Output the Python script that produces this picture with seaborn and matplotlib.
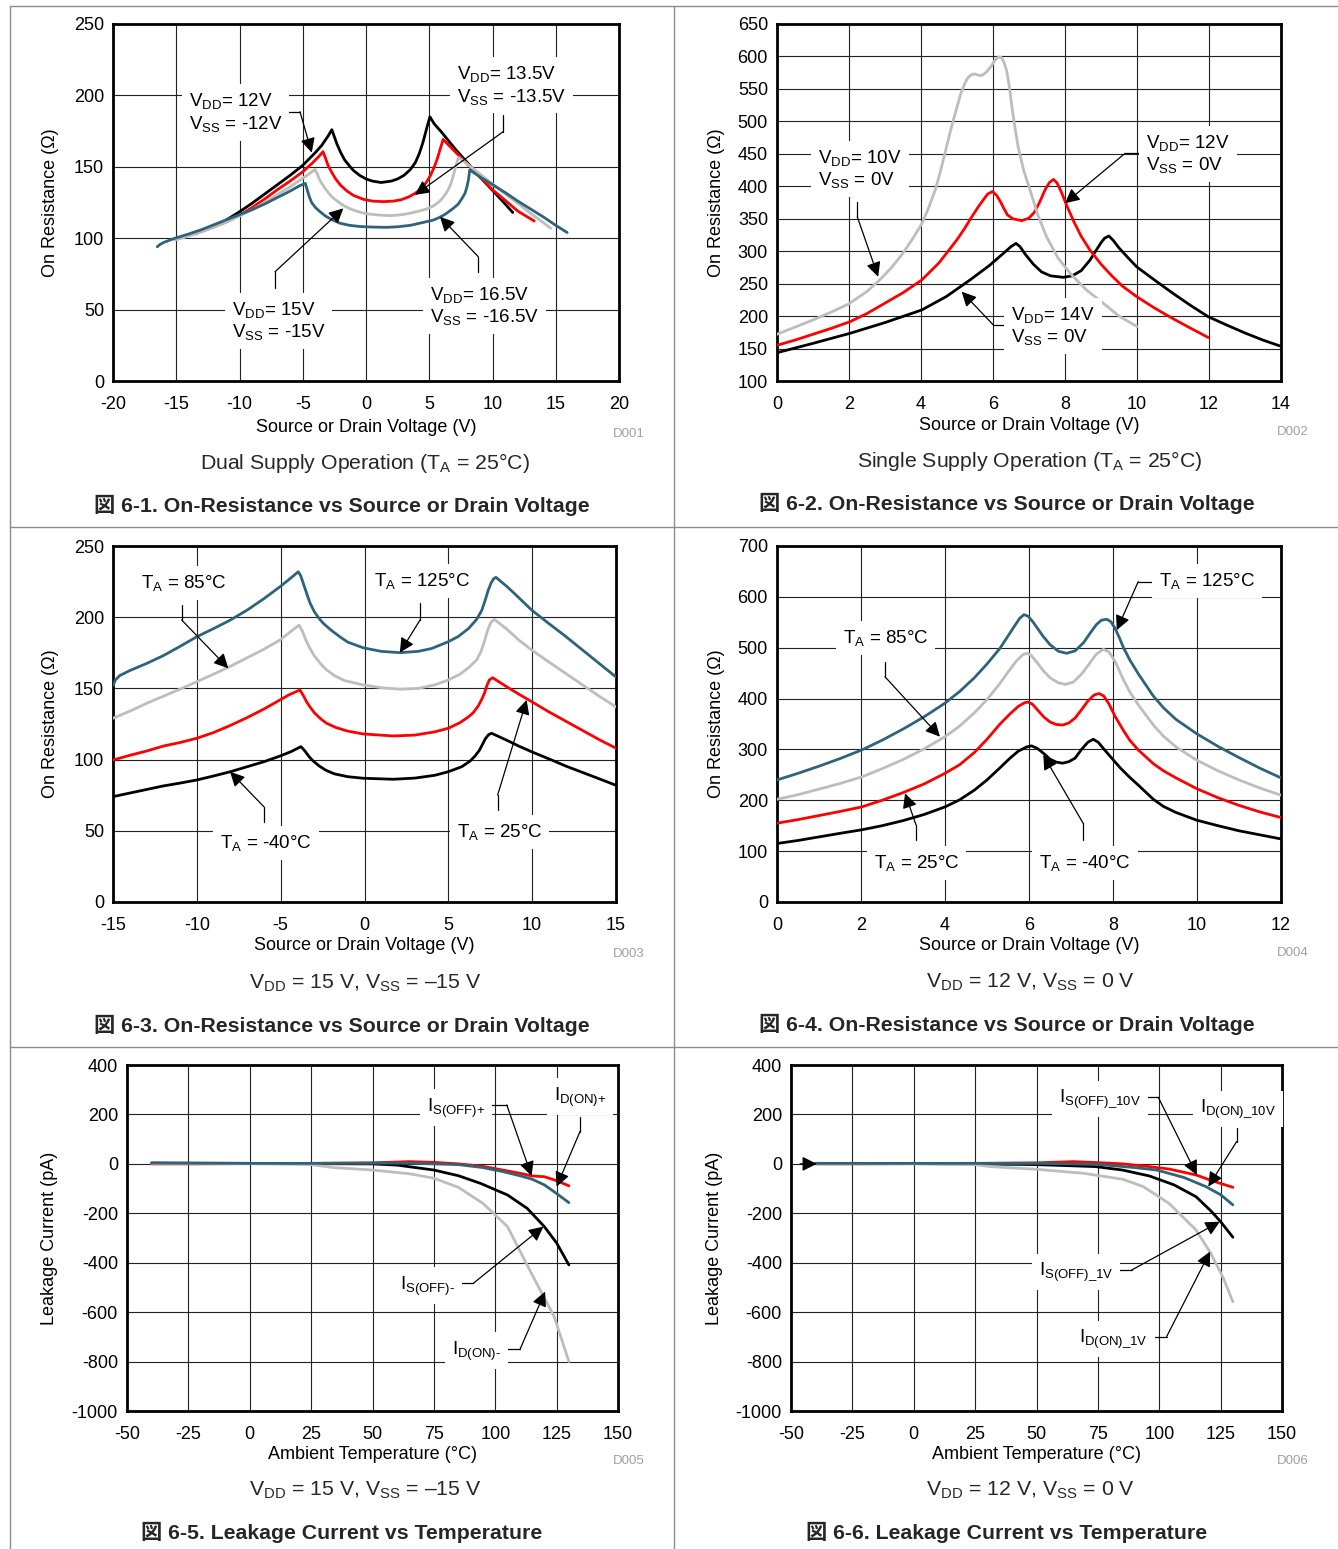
import numpy as np
import pandas as pd
import matplotlib
matplotlib.use("Agg")
import matplotlib.pyplot as plt
from matplotlib.lines import Line2D
import seaborn as sns

# ---------------- data ----------------
# Fig 6-1 dual supply (x: V, y: ohm)
p1_black_x = [-12.1, -11, -10, -9, -8, -7, -6, -5, -4, -3.5, -3.0, -2.7, -2.5, -2.3, -2.0, -1.7, -1.3, -1.0, -0.5, 0, 0.5, 1.2, 2, 2.5, 3, 3.5, 3.9, 4.2, 4.5, 4.8, 5.05, 5.4, 6, 7, 8, 9, 10, 11, 11.6]
p1_black_y = [108, 113, 118.5, 124.5, 131, 137.5, 144, 151, 160, 165, 171.5, 176, 171, 166, 160, 155, 150.5, 147.5, 144, 141.5, 140, 139, 140, 141.5, 144, 148, 153, 159, 167, 177, 185, 180, 174, 163, 153, 143, 133.5, 124, 118]
p1_red_x = [-13.5, -12, -11, -10, -9, -8, -7, -6, -5, -4.2, -3.7, -3.4, -3.2, -3.0, -2.7, -2.4, -2.0, -1.5, -1.0, -0.2, 0.5, 1.4, 2.2, 2.8, 3.4, 3.9, 4.4, 4.8, 5.1, 5.4, 5.65, 5.9, 6.1, 6.5, 7, 8, 9, 10, 11, 12, 13.3]
p1_red_y = [103, 108, 111.5, 116, 121.5, 127.5, 134, 140, 146.5, 153, 157.5, 160.6, 156, 151, 146, 141.5, 137, 133, 130, 127.2, 126, 125.6, 126, 127, 129, 131.5, 135, 139.5, 144, 150, 156, 163.5, 169.2, 165.5, 161, 152, 143, 134, 126.5, 119, 112]
p1_gray_x = [-15.1, -14, -13, -12, -11, -10, -9, -8, -7, -6, -5, -4.5, -4.03, -3.85, -3.7, -3.5, -3.2, -2.9, -2.58, -2.2, -1.8, -1.4, -1.0, -0.5, 0, 1, 1.9, 2.8, 3.5, 4.2, 4.8, 5.32, 5.7, 6.0, 6.3, 6.5, 6.7, 6.85, 7.0, 7.15, 7.3, 8, 9, 10, 11, 12, 13, 14, 14.6]
p1_gray_y = [98.7, 101.5, 104.5, 108, 111.5, 115.5, 120, 125, 130.5, 136, 142, 145, 148.2, 145, 141.5, 138.4, 134.5, 131, 128, 125.5, 123, 121.2, 119.7, 118.3, 117.2, 116.2, 115.8, 116.4, 117.5, 119, 120.5, 122.5, 125, 127.5, 131, 134, 138, 142, 147, 152, 156.6, 152, 145, 138, 131, 124.5, 117.5, 111, 107]
p1_teal_x = [-16.5, -16.3, -16.0, -15.1, -14, -13, -12, -11, -10, -9, -8, -7, -6, -5.3, -4.8, -4.65, -4.5, -4.3, -4.0, -3.64, -3.2, -2.7, -2.06, -1.3, -0.5, 0.5, 1.63, 2.5, 3.5, 4.5, 5.32, 5.8, 6.3, 6.9, 7.3, 7.6, 7.83, 7.98, 8.1, 8.2, 9, 10, 11, 12, 13, 14, 15, 15.9]
p1_teal_y = [94, 95.5, 97, 100, 103, 106, 109.5, 113, 116.5, 120, 124, 128.5, 133, 136.5, 138.4, 134, 129.5, 125, 121.5, 118.6, 115.5, 113, 110.5, 109, 108.2, 107.8, 107.6, 108, 109, 111, 112.7, 114.5, 117, 120.9, 124, 128, 131.5, 136, 141, 147.8, 143, 137.5, 132, 126, 120.5, 115, 109, 104]

# Fig 6-2 single supply
p2_gray_x = [0, 0.5, 1, 1.5, 2, 2.5, 2.86, 3.2, 3.5, 3.8, 4.02, 4.2, 4.4, 4.55, 4.71, 4.85, 5.0, 5.1, 5.22, 5.3, 5.4, 5.5, 5.6, 5.7, 5.82, 5.95, 6.05, 6.15, 6.22, 6.3, 6.38, 6.45, 6.52, 6.6, 6.7, 6.85, 7.03, 7.25, 7.49, 7.8, 8.14, 8.6, 9.06, 9.5, 10]
p2_gray_y = [172, 183, 194, 206, 219, 238, 256, 276, 297, 322, 342, 365, 395, 425, 461, 492, 522, 542, 559, 567, 572, 573, 571, 571, 576, 585, 594, 599, 599, 592, 578, 555, 525, 494, 460, 425, 394, 355, 322, 290, 266, 240, 220, 200, 184]
p2_red_x = [0, 0.5, 1, 1.5, 2.03, 2.5, 3, 3.5, 4.02, 4.5, 4.99, 5.2, 5.4, 5.6, 5.73, 5.85, 5.99, 6.1, 6.2, 6.3, 6.4, 6.55, 6.8, 7.0, 7.15, 7.3, 7.45, 7.57, 7.68, 7.78, 7.9, 8.05, 8.25, 8.45, 8.69, 9.0, 9.3, 9.6, 9.99, 10.5, 11, 11.5, 11.98]
p2_red_y = [155, 163, 172, 181, 191.4, 204, 220, 236, 255.6, 282, 317, 334, 352, 369, 379, 388, 392, 386, 377, 366, 356, 350, 347, 351, 360, 376, 395, 406, 410.6, 405, 391, 370, 345, 323, 302, 280, 262, 246, 230, 212, 196, 181, 167]
p2_black_x = [0, 1, 2.03, 3, 4.02, 4.7, 5.36, 5.9, 6.29, 6.5, 6.64, 6.75, 6.9, 7.12, 7.35, 7.6, 7.95, 8.2, 8.45, 8.69, 8.85, 9.0, 9.1, 9.22, 9.35, 9.5, 9.75, 9.99, 10.5, 11, 11.5, 11.98, 12.5, 13, 13.5, 13.97]
p2_black_y = [143.6, 158, 173.5, 190, 209.4, 230, 255.6, 278, 296.7, 307, 312, 307, 295, 280, 268, 262, 259.7, 262, 270, 286, 300, 313, 320, 323.4, 316, 305, 290, 276, 255, 235, 216, 199, 186, 174, 163, 154]

# Fig 6-3 temperature, dual
p3_teal_x = [-15, -14.85, -14.6, -14, -13, -12, -11, -10, -9, -8, -7, -6, -5.04, -4.5, -3.95, -3.8, -3.6, -3.4, -3.25, -3.0, -2.7, -2.46, -2.0, -1.5, -1.0, -0.07, 1, 2.11, 3.2, 4, 5.0, 5.6, 6.2, 6.69, 7.0, 7.2, 7.38, 7.55, 7.7, 7.84, 8.5, 9, 9.97, 11, 12, 13, 14, 15]
p3_teal_y = [152, 156, 159, 162.5, 167.5, 173, 179.5, 186.3, 192, 198, 205, 213, 221.4, 226.5, 231.9, 229, 222, 215, 210, 204, 199, 195.7, 191, 186.5, 182.5, 178.5, 176, 175.1, 176, 178, 182.8, 186.5, 192, 198.5, 205, 212, 219, 224, 227, 228, 221.5, 216, 205, 195.5, 186.5, 177, 167.5, 158]
p3_gray_x = [-15, -14, -13, -12, -11, -10, -9, -8, -7, -6, -5.04, -4.5, -3.9, -3.7, -3.5, -3.25, -3.0, -2.6, -2.26, -1.8, -1.2, -0.07, 1, 2.11, 3.2, 4.2, 5.0, 5.7, 6.2, 6.69, 6.95, 7.15, 7.35, 7.55, 7.74, 8.5, 9.2, 9.97, 11, 12, 13, 14, 15]
p3_gray_y = [129, 134, 139.5, 144.5, 149.5, 154.7, 160, 165.5, 171.5, 177.5, 184, 189, 194.5, 190, 184, 178, 173, 167, 163, 159, 155.5, 152.4, 150.5, 149.4, 150, 152.5, 155.9, 160, 164.5, 170, 176, 183, 191, 196.5, 198.5, 191.5, 184, 177, 168.5, 160.5, 152.5, 144.5, 137]
p3_red_x = [-15, -14, -13, -12, -11, -10, -9, -8, -7, -6, -5.04, -4.5, -3.85, -3.65, -3.45, -3.25, -3.0, -2.6, -2.26, -1.7, -1.0, -0.07, 1.71, 3, 4.2, 5.0, 5.7, 6.2, 6.49, 6.8, 7.0, 7.15, 7.3, 7.45, 7.64, 8.5, 9.2, 9.97, 11, 12, 13, 14, 15]
p3_red_y = [99.7, 103, 106, 109.5, 112, 115, 119, 124, 129.5, 135.5, 141.9, 145.5, 148.9, 145, 140.5, 137, 133, 128.5, 125.5, 122.5, 120, 118, 116.6, 117.2, 119.5, 122, 126, 130, 133, 138, 142.5, 146.5, 152, 156, 157.5, 151, 146, 140.7, 133.5, 127, 120.5, 114, 108]
p3_black_x = [-15, -14, -13, -12, -11, -10, -9, -8, -7, -6, -5.04, -4.4, -3.79, -3.55, -3.3, -3.06, -2.7, -2.3, -1.8, -1.0, -0.07, 1.71, 3, 4.2, 5.0, 5.8, 6.3, 6.59, 6.85, 7.05, 7.2, 7.4, 7.58, 8.5, 9.2, 9.97, 11, 12, 13, 14, 15]
p3_black_y = [74, 76.5, 79, 81.5, 83.5, 85.7, 88.5, 91.5, 95, 98.5, 102.5, 105.5, 109.1, 106, 102, 99, 95.5, 92.5, 90, 88, 86.9, 86.2, 87, 89, 91.5, 95, 99, 102.5, 106.5, 111, 114.5, 117.5, 118.5, 113.5, 109.5, 105.5, 100.5, 95.5, 91, 86.5, 82]

# Fig 6-4 temperature, single
p4_teal_x = [0, 0.5, 1, 1.5, 2.02, 2.5, 3, 3.5, 4.0, 4.35, 4.7, 5.0, 5.31, 5.5, 5.65, 5.78, 5.88, 5.98, 6.1, 6.22, 6.34, 6.5, 6.7, 6.9, 7.1, 7.3, 7.45, 7.6, 7.72, 7.85, 7.95, 8.05, 8.15, 8.25, 8.4, 8.6, 8.96, 9.2, 9.5, 9.99, 10.5, 11, 11.5, 12]
p4_teal_y = [240, 253, 267, 282, 299, 318, 340, 364, 391, 414, 441, 468, 499, 523, 542, 558, 565, 562, 550, 536, 522, 506, 493, 489, 494, 510, 528, 545, 554, 556, 551, 538, 520, 500, 476, 449, 405, 382, 359, 331, 306, 284, 263, 244]
p4_gray_x = [0, 0.5, 1, 1.5, 2.02, 2.5, 3, 3.5, 4.0, 4.35, 4.7, 5.0, 5.31, 5.5, 5.7, 5.85, 5.94, 6.05, 6.2, 6.35, 6.5, 6.7, 6.86, 7.05, 7.25, 7.45, 7.6, 7.77, 7.9, 8.05, 8.25, 8.4, 8.6, 8.96, 9.2, 9.5, 9.99, 10.5, 11, 11.5, 12]
p4_gray_y = [202, 211, 222, 233, 246, 262, 280, 301, 325, 346, 372, 398, 430, 452, 474, 486, 489, 485, 470, 454, 441, 431, 428, 432, 448, 470, 487, 497, 492, 473, 437, 413, 388, 348, 326, 305, 279, 258, 240, 224, 210]
p4_red_x = [0, 0.5, 1, 1.5, 2.02, 2.5, 3, 3.5, 4.0, 4.35, 4.7, 5.0, 5.31, 5.55, 5.75, 5.9, 5.98, 6.08, 6.2, 6.35, 6.5, 6.65, 6.8, 6.95, 7.1, 7.25, 7.4, 7.55, 7.67, 7.78, 7.9, 8.05, 8.25, 8.4, 8.6, 8.96, 9.2, 9.5, 9.99, 10.5, 11, 11.5, 12]
p4_red_y = [155, 162, 170, 178, 187, 200, 215, 232, 253, 270, 294, 320, 350, 370, 385, 392, 393, 389, 378, 364, 354, 349, 348, 352, 362, 378, 395, 407, 410, 405, 390, 365, 337, 318, 299, 272, 258, 244, 223, 205, 190, 177, 166]
p4_black_x = [0, 0.5, 1, 1.5, 2.02, 2.5, 3, 3.5, 4.0, 4.35, 4.7, 5.0, 5.31, 5.55, 5.75, 5.95, 6.06, 6.2, 6.35, 6.5, 6.65, 6.8, 6.95, 7.1, 7.25, 7.4, 7.53, 7.65, 7.8, 8.0, 8.17, 8.4, 8.6, 8.96, 9.2, 9.5, 9.99, 10.5, 11, 11.5, 12]
p4_black_y = [115, 121, 128, 135, 142, 150, 160, 172, 187, 201, 220, 240, 264, 283, 297, 305, 307, 302, 292, 281, 275, 273, 276, 283, 300, 314, 320, 314, 299, 280, 264, 245, 230, 202, 188, 176, 161, 150, 140, 132, 124]

# Fig 6-5 leakage, dual (x: degC, y: pA)
p5_black_x = [-40, 0, 25, 50, 60, 75, 85, 94, 105, 113, 120, 125, 130]
p5_black_y = [3, 2, 1, 0, -5, -25, -48, -79, -126, -180, -254, -320, -409]
p5_red_x = [-40, -25, 0, 25, 50, 65, 75, 85, 95, 103, 110, 115, 120, 125, 130]
p5_red_y = [0, 0, 1, 2, 4, 9, 6, 0, -10, -25, -38, -49, -52, -68, -89]
p5_gray_x = [-40, 0, 25, 34, 50, 65, 75, 85, 95, 105, 114, 124, 130]
p5_gray_y = [2, 1, -3, -15, -25, -40, -58, -95, -160, -254, -429, -618, -800]
p5_teal_x = [-40, -25, 0, 25, 50, 65, 75, 85, 95, 103, 110, 115, 120, 125, 130]
p5_teal_y = [4, 3, 2, 2, 3, 3, 0, -3, -15, -31, -48, -62, -85, -120, -157]

# Fig 6-6 leakage, single
p6_black_x = [-40, 0, 25, 50, 74, 85, 96, 106, 115, 121, 125, 130]
p6_black_y = [2, 1, 0, -3, -11, -25, -49, -85, -133, -190, -234, -297]
p6_red_x = [-40, -25, 0, 25, 50, 65, 75, 85, 95, 104, 115, 122, 130]
p6_red_y = [0, 0, 1, 2, 4, 9, 5, 0, -10, -21, -45, -70, -95]
p6_gray_x = [-40, 0, 25, 31, 50, 69, 85, 93.5, 104, 115, 121, 126, 130]
p6_gray_y = [1, 0, -3, -11, -22, -38, -62, -92, -160, -268, -362, -460, -558]
p6_teal_x = [-40, 0, 25, 50, 75, 90, 99, 110, 119, 125, 130]
p6_teal_y = [2, 2, 2, 2, -2, -15, -25, -55, -92, -125, -166]

# ---------------- style ----------------
sns.set_theme(style="white")
plt.rcParams["font.family"] = ["Liberation Sans", "Noto Sans CJK JP", "DejaVu Sans"]
plt.rcParams["mathtext.fontset"] = "custom"
plt.rcParams["mathtext.rm"] = "Liberation Sans"
plt.rcParams["mathtext.it"] = "Liberation Sans:italic"
plt.rcParams["mathtext.bf"] = "Liberation Sans:bold"
plt.rcParams["axes.unicode_minus"] = False

BLACK, RED, GRAY, TEAL = "#000000", "#FF0000", "#BDBDBD", "#2E6479"
FS_TICK = 13
FS_ANN = 13.5
W, H = 1338, 1549

fig = plt.figure(figsize=(W / 100, H / 100), dpi=100)
fig.patch.set_facecolor("white")


def add_ax(x0, y0, x1, y1):
    return fig.add_axes([x0 / W, 1 - y1 / H, (x1 - x0) / W, (y1 - y0) / H])


def draw_series(ax, series):
    frames = []
    order = []
    pal = {}
    for name, xs, ys, col in series:
        frames.append(pd.DataFrame({"x": xs, "y": ys, "s": name}))
        order.append(name)
        pal[name] = col
    df = pd.concat(frames, ignore_index=True)
    sns.lineplot(data=df, x="x", y="y", hue="s", hue_order=order, palette=pal,
                 estimator=None, sort=False, legend=False, linewidth=2.0, ax=ax, zorder=3)


def style_ax(ax, xlim, ylim, xt, yt, xlabel, ylabel, xl_y, yl_x):
    ax.set_xlim(*xlim)
    ax.set_ylim(*ylim)
    ax.set_xticks(xt)
    ax.set_yticks(yt)
    ax.set_xticklabels([f"{v:g}" for v in xt])
    ax.set_yticklabels([f"{v:g}" for v in yt])
    ax.grid(True, color="#222222", linewidth=0.8)
    ax.set_axisbelow(True)
    for s in ax.spines.values():
        s.set_linewidth(2.0)
        s.set_color("black")
        s.set_visible(True)
    ax.tick_params(axis="both", length=0, labelsize=FS_TICK, colors="black")
    ax.tick_params(axis="x", pad=10.5)
    ax.tick_params(axis="y", pad=6.5)
    ax.set_xlabel(xlabel, fontsize=FS_TICK, color="black")
    ax.set_ylabel(ylabel, fontsize=FS_TICK, color="black")
    ax.xaxis.label.set_va("center")
    ax.yaxis.label.set_va("center")
    ax.xaxis.set_label_coords(0.5, xl_y)
    ax.yaxis.set_label_coords(yl_x, 0.5)


def callout(ax, label, txy, path, tip):
    ax.text(txy[0], txy[1], label, ha="left", va="center", fontsize=FS_ANN,
            linespacing=1.15, color="black", zorder=6,
            bbox=dict(facecolor="white", edgecolor="none", pad=5))
    ax.plot([p[0] for p in path], [p[1] for p in path], color="black", lw=0.9, zorder=5)
    ax.annotate("", xy=tip, xytext=path[-1],
                arrowprops=dict(arrowstyle="-|>", color="black", lw=0.9,
                                mutation_scale=22, shrinkA=0, shrinkB=0), zorder=5)


def sub(a, b):
    return a + r"$_{\mathrm{" + b + r"}}$"


def subt(a, b):
    return a + r"$_{\text{" + b + r"}}$"


VS = "Source or Drain Voltage (V)"
OR = "On Resistance (\u03a9)"

# ---- Panel 1 ----
ax1 = add_ax(113, 24, 619, 381)
draw_series(ax1, [("12", p1_black_x, p1_black_y, BLACK), ("13.5", p1_red_x, p1_red_y, RED),
                  ("15", p1_gray_x, p1_gray_y, GRAY), ("16.5", p1_teal_x, p1_teal_y, TEAL)])
style_ax(ax1, (-20, 20), (0, 250), list(range(-20, 21, 5)), list(range(0, 251, 50)), VS, OR, -0.131, -0.1245)
callout(ax1, sub("V", "DD") + "= 12V\n" + sub("V", "SS") + " = -12V", (-14.0, 188),
        [(-6.66, 188.6), (-5.22, 188.6)], (-4.29, 159.9))
callout(ax1, sub("V", "DD") + "= 13.5V\n" + sub("V", "SS") + " = -13.5V", (7.19, 207),
        [(10.85, 186.3), (10.85, 174.6)], (3.87, 130.3))
callout(ax1, sub("V", "DD") + "= 15V\n" + sub("V", "SS") + " = -15V", (-10.6, 42),
        [(-7.19, 64.9), (-7.19, 76.5)], (-1.79, 120.9))
callout(ax1, sub("V", "DD") + "= 16.5V\n" + sub("V", "SS") + " = -16.5V", (5.06, 52.5),
        [(8.88, 76.5), (8.88, 87)], (5.85, 115))

# ---- Panel 2 ----
ax2 = add_ax(777, 24, 1281, 381)
draw_series(ax2, [("14", p2_black_x, p2_black_y, BLACK), ("12", p2_red_x, p2_red_y, RED),
                  ("10", p2_gray_x, p2_gray_y, GRAY)])
style_ax(ax2, (0, 14), (100, 650), list(range(0, 15, 2)), list(range(100, 651, 50)), VS, OR, -0.124, -0.121)
callout(ax2, sub("V", "DD") + "= 10V\n" + sub("V", "SS") + " = 0V", (1.14, 426.7),
        [(2.23, 376.3), (2.23, 353)], (2.81, 260.7))
callout(ax2, sub("V", "DD") + "= 12V\n" + sub("V", "SS") + " = 0V", (10.25, 449.8),
        [(10.08, 450.8), (9.67, 450.8)], (8.0, 373.8))
callout(ax2, sub("V", "DD") + "= 14V\n" + sub("V", "SS") + " = 0V", (6.5, 184.7),
        [(6.38, 186.3), (6.01, 186.3)], (5.13, 237.6))

# ---- Panel 3 ----
ax3 = add_ax(113, 546, 616, 902)
draw_series(ax3, [("-40", p3_black_x, p3_black_y, BLACK), ("25", p3_red_x, p3_red_y, RED),
                  ("85", p3_gray_x, p3_gray_y, GRAY), ("125", p3_teal_x, p3_teal_y, TEAL)])
style_ax(ax3, (-15, 15), (0, 250), list(range(-15, 16, 5)), list(range(0, 251, 50)), VS, OR, -0.123, -0.125)
TA = sub("T", "A")
callout(ax3, TA + " = 85\u00b0C", (-13.33, 224), [(-10.9, 208.6), (-10.9, 198)], (-8.12, 164.1))
callout(ax3, TA + " = 125\u00b0C", (0.56, 225.4), [(3.31, 209.8), (3.31, 198)], (2.11, 175.1))
callout(ax3, TA + " = -40\u00b0C", (-8.62, 41.4), [(-6.0, 56.4), (-6.0, 66.9)], (-8.02, 91.5))
callout(ax3, TA + " = 25\u00b0C", (5.51, 49.2), [(7.94, 64.6), (7.94, 75.1)], (9.67, 141.9))

# ---- Panel 4 ----
ax4 = add_ax(777, 546, 1281, 902)
draw_series(ax4, [("-40", p4_black_x, p4_black_y, BLACK), ("25", p4_red_x, p4_red_y, RED),
                  ("85", p4_gray_x, p4_gray_y, GRAY), ("125", p4_teal_x, p4_teal_y, TEAL)])
style_ax(ax4, (0, 12), (0, 700), list(range(0, 13, 2)), list(range(0, 701, 100)), VS, OR, -0.123, -0.121)
callout(ax4, TA + " = 125\u00b0C", (9.1, 631), [(8.96, 629.8), (8.6, 629.8)], (8.09, 534.8))
callout(ax4, TA + " = 85\u00b0C", (1.57, 519), [(2.57, 472.5), (2.57, 443)], (3.88, 325))
callout(ax4, TA + " = 25\u00b0C", (2.31, 76.7), [(3.31, 121.9), (3.31, 151.4)], (3.05, 213.7))
callout(ax4, TA + " = -40\u00b0C", (6.24, 76.7), [(7.29, 121.9), (7.29, 154.7)], (6.34, 289))

# ---- Panel 5 ----
AT = "Ambient Temperature (\u00b0C)"
LC = "Leakage Current (pA)"
ax5 = add_ax(127, 1065, 618, 1411)
draw_series(ax5, [("IS-", p5_black_x, p5_black_y, BLACK), ("IS+", p5_red_x, p5_red_y, RED),
                  ("ID-", p5_gray_x, p5_gray_y, GRAY), ("ID+", p5_teal_x, p5_teal_y, TEAL)])
style_ax(ax5, (-50, 150), (-1000, 400), list(range(-50, 151, 25)), list(range(-1000, 401, 200)), AT, LC, -0.127, -0.157)
callout(ax5, subt("I", "S(OFF)+"), (72.2, 226.2), [(95.8, 238.4), (104.7, 238.4)], (114.8, -49))
callout(ax5, subt("I", "D(ON)+"), (123.9, 270.7), [(134.5, 191), (134.5, 130.3)], (125, -92))
callout(ax5, subt("I", "S(OFF)-"), (61.2, -494), [(85.6, -483), (91.1, -483)], (119.6, -254))
callout(ax5, subt("I", "D(ON)-"), (82.4, -757), [(104, -750), (110.1, -750)], (120.3, -517))

# ---- Panel 6 ----
ax6 = add_ax(791, 1065, 1282, 1411)
draw_series(ax6, [("IS1", p6_black_x, p6_black_y, BLACK), ("IS10", p6_red_x, p6_red_y, RED),
                  ("ID1", p6_gray_x, p6_gray_y, GRAY), ("ID10", p6_teal_x, p6_teal_y, TEAL)])
style_ax(ax6, (-50, 150), (-1000, 400), list(range(-50, 151, 25)), list(range(-1000, 401, 200)), AT, LC, -0.127, -0.155)
callout(ax6, sub("I", r"S(OFF)\_10V"), (59.2, 262.6), [(93.5, 269.5), (99.6, 269.5)], (115.3, -45))
callout(ax6, sub("I", r"D(ON)\_10V"), (116.6, 222), [(131.5, 144), (131.5, 89.8)], (120, -92))
callout(ax6, sub("I", r"S(OFF)\_1V"), (51, -437.5), [(82.7, -429.4), (88.8, -429.4)], (124.7, -234))
callout(ax6, sub("I", r"D(ON)\_1V"), (67.3, -708.6), [(96.9, -699), (103, -699)], (120.7, -355))
ax6.annotate("", xy=(-39.5, 0), xytext=(-46.3, 0),
             arrowprops=dict(arrowstyle="-|>", color="black", lw=0.9, mutation_scale=22,
                             shrinkA=0, shrinkB=0), zorder=5)

# ---------------- figure texts ----------------
def ftext(x, y, s, **kw):
    fig.text(x / W, 1 - y / H, s, ha="center", va="center", **kw)


for (x, y, s) in [(645, 434, "D001"), (1309, 432, "D002"), (645, 954, "D003"),
                  (1309, 953, "D004"), (645, 1461, "D005"), (1309, 1461, "D006")]:
    fig.text(x / W, 1 - y / H, s, ha="right", va="center", fontsize=9.5, color="#A0A0A0")

FS_SUB = 15.3
FS_CAP = 15.3
ftext(365, 463, "Dual Supply Operation (" + TA + " = 25\u00b0C)", fontsize=FS_SUB)
ftext(1030, 461, "Single Supply Operation (" + TA + " = 25\u00b0C)", fontsize=FS_SUB)
ftext(365, 983, sub("V", "DD") + " = 15 V, " + sub("V", "SS") + " = \u201315 V", fontsize=FS_SUB)
ftext(1030, 982, sub("V", "DD") + " = 12 V, " + sub("V", "SS") + " = 0 V", fontsize=FS_SUB)
ftext(365, 1490, sub("V", "DD") + " = 15 V, " + sub("V", "SS") + " = \u201315 V", fontsize=FS_SUB)
ftext(1030, 1490, sub("V", "DD") + " = 12 V, " + sub("V", "SS") + " = 0 V", fontsize=FS_SUB)

ftext(342, 505, "\u56f3 6-1. On-Resistance vs Source or Drain Voltage", fontsize=FS_CAP, fontweight="bold")
ftext(1007, 503, "\u56f3 6-2. On-Resistance vs Source or Drain Voltage", fontsize=FS_CAP, fontweight="bold")
ftext(342, 1025, "\u56f3 6-3. On-Resistance vs Source or Drain Voltage", fontsize=FS_CAP, fontweight="bold")
ftext(1007, 1024, "\u56f3 6-4. On-Resistance vs Source or Drain Voltage", fontsize=FS_CAP, fontweight="bold")
ftext(342, 1532, "\u56f3 6-5. Leakage Current vs Temperature", fontsize=FS_CAP, fontweight="bold")
ftext(1007, 1532, "\u56f3 6-6. Leakage Current vs Temperature", fontsize=FS_CAP, fontweight="bold")

# frame lines
FC = "#8C8C8C"
for (xa, ya) in [((10, W), (6, 6)), ((10, W), (527, 527)), ((10, W), (1047, 1047)),
                 ((9.5, 9.5), (6, H)), ((674, 674), (6, H))]:
    fig.add_artist(Line2D([xa[0] / W, xa[1] / W], [1 - ya[0] / H, 1 - ya[1] / H],
                          transform=fig.transFigure, color=FC, lw=1.0))

fig.savefig("out.png", dpi=100, facecolor="white")
